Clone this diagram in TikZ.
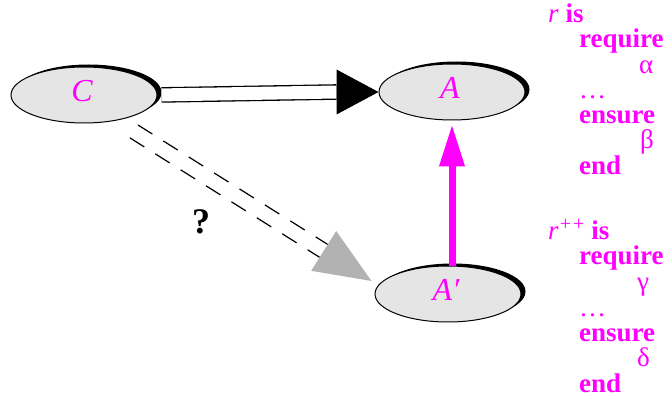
\documentclass[tikz,border=0pt]{standalone}
\usepackage{fontspec}
\setmainfont{Liberation Serif}
\usetikzlibrary{arrows.meta,shadows,calc,shapes.geometric}
\definecolor{mag}{RGB}{255,0,255}
\definecolor{ellfill}{RGB}{229,229,229}
\definecolor{garr}{RGB}{178,178,178}
\tikzset{
  oval/.style={ellipse, draw=black, line width=1pt, fill=ellfill,
    minimum width=146pt, minimum height=56pt, inner sep=0pt, text depth=9pt,
    font=\fontsize{32}{32}\selectfont\itshape, text=mag,
    general shadow={fill=black, shadow xshift=4.5pt, shadow yshift=2.5pt}},
  dbl/.style={draw=black, line width=1.3pt, double=white, double distance=13pt},
  dashln/.style={draw=black, line width=1.2pt, dash pattern=on 17pt off 13pt},
  kw/.style={anchor=base west, inner sep=0pt, text=mag, text height=18pt, text depth=3pt,
    font=\fontsize{27}{27}\selectfont\bfseries},
  gr/.style={anchor=base west, inner sep=0pt, text=mag, text height=14pt, text depth=5pt,
    font=\fontsize{27}{27}\selectfont},
  qmark/.style={inner sep=0pt, font=\fontsize{36}{36}\selectfont\bfseries}
}
\begin{document}
\begin{tikzpicture}[x=1pt,y=-1pt]
\useasboundingbox (0,0) rectangle (669,398);
% nodes
\node[oval] (C) at (84,95) {\hspace*{-4pt}C};
\node[oval] (A) at (452,92) {\hspace*{-4pt}A};
\node[oval] (Ap) at (448,294) {\hspace*{-4pt}A′};
% double arrow C -> A
\coordinate (Ah) at ($(A.west)+(-42,0)$);
\draw[dbl, shorten <=4pt] (C.east) -- (Ah);
\fill[black] (A.west) -- ($(Ah)+(0,-22.5)$) -- ($(Ah)+(0,22.5)$) -- cycle;
% dashed double arrow C -> A'
\coordinate (qs) at ($(C.center)+(0,5)$);
\coordinate (qt) at ($(Ap.west)+(-3,-13)$);
\coordinate (qb) at ($(qt)!56.5pt!(qs)$);
\coordinate (s0) at ($(qs)!59pt!(qb)$);
\coordinate (u1) at ($(s0)!7.6pt!90:(qb)$);
\coordinate (u2) at ($(qb)!7.6pt!-90:(s0)$);
\coordinate (l1) at ($(s0)!7.6pt!-90:(qb)$);
\coordinate (l2) at ($(qb)!7.6pt!90:(s0)$);
\draw[dashln] (u1) -- (u2);
\draw[dashln] (l1) -- (l2);
\fill[garr] (qt) -- ($(qb)!23.5pt!90:(qt)$) -- ($(qb)!23.5pt!-90:(qt)$) -- cycle;
\node[qmark] (q) at (201,222) {?};
% magenta arrow A' -> A
\draw[mag, line width=7pt, -{Triangle[length=42pt,width=24pt]}, shorten >=4pt]
  (Ap.north -| A.south) -- (A.south);
% text block 1
\node[kw] (r1) at (548,23) {\textmd{\textit{r}} is};
\node[kw] (req1) at (579,48) {require};
\node[gr] (al) at (639,74) {α};
\node[gr] (d1) at (579,99) {…};
\node[kw] (ens1) at (579,124) {ensure};
\node[gr] (be) at (640,149) {β};
\node[kw] (end1) at (579,175) {end};
% text block 2
\node[kw] (r2) at (548,239) {\textmd{\textit{r}\kern1pt\raisebox{9pt}{\fontsize{20}{20}\selectfont +\kern2pt+}}\hspace{7pt}is};
\node[kw] (req2) at (579,264) {require};
\node[gr] (ga) at (637,290) {γ};
\node[gr] (d2) at (579,316) {…};
\node[kw] (ens2) at (579,341) {ensure};
\node[gr] (de) at (637,366) {δ};
\node[kw] (end2) at (579,392) {end};
\end{tikzpicture}
\end{document}
